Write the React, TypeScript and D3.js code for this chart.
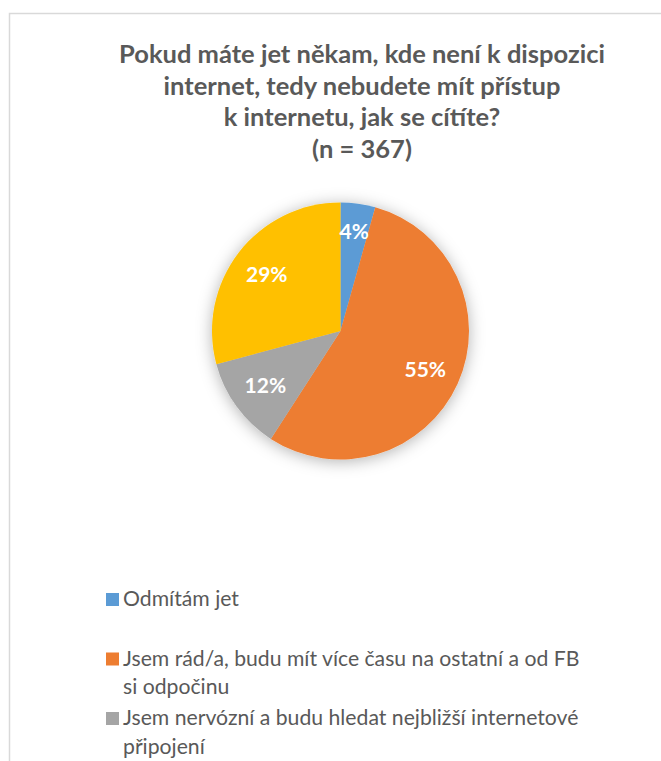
import React from "react";
import * as d3 from "d3";

const titleLines = [
  "Pokud máte jet někam, kde není k dispozici",
  "internet, tedy nebudete mít přístup",
  "k internetu, jak se cítíte?",
  "(n = 367)",
];

const categories = [
  "Odmítám jet",
  "Jsem rád/a, budu mít více času na ostatní a od FB si odpočinu",
  "Jsem nervózní a budu hledat nejbližší internetové připojení",
  "Je mi to jedno",
];

const legendLines = [
  ["Odmítám jet"],
  ["Jsem rád/a, budu mít více času na ostatní a od FB", "si odpočinu"],
  ["Jsem nervózní a budu hledat nejbližší internetové", "připojení"],
  ["Je mi to jedno"],
];

const counts = [16, 201, 43, 107];
const colors = ["#5B9BD5", "#ED7D31", "#A5A5A5", "#FFC000"];

const W = 661;
const H = 761;

export default function App() {
  const cx = 340.5;
  const cy = 331;
  const R = 128.5;
  const total = d3.sum(counts);
  const pie = d3.pie<number>().sort(null).value((d) => d)(counts);
  const arc = d3.arc<d3.PieArcDatum<number>>().innerRadius(0).outerRadius(R);
  const font = "Lato, 'Open Sans', sans-serif";
  const titleX = 362;
  const titleY0 = 63;
  const titleStep = 31.5;
  const legendX = 106;
  const legendY0 = 606;
  const legendStep = 59.5;
  const legendLH = 28.5;

  return (
    <svg
      width={W}
      height={H}
      style={{ position: "absolute", left: 0, top: 0, background: "#fff" }}
    >
      <defs>
        <filter id="shadow" x="-30%" y="-30%" width="160%" height="160%">
          <feDropShadow dx="0" dy="2" stdDeviation="8" floodColor="#000" floodOpacity="0.3" />
        </filter>
      </defs>
      <rect x={9.5} y={13.5} width={W + 20} height={H + 20} fill="#fff" stroke="#d9d9d9" strokeWidth={1.5} />
      <g fontFamily={font} fontWeight="bold" fill="#595959" fontSize={25.5} textAnchor="middle">
        {titleLines.map((t, i) => (
          <text key={i} x={titleX} y={titleY0 + i * titleStep}>
            {t}
          </text>
        ))}
      </g>
      <g transform={`translate(${cx},${cy})`}>
        <g filter="url(#shadow)">
          {pie.map((p, i) => (
            <path key={i} d={arc(p) || ""} fill={colors[i]} />
          ))}
        </g>
        {pie.map((p, i) => {
          const share = p.value / total;
          const lr = share < 0.08 ? 101 : 93;
          const a = (p.startAngle + p.endAngle) / 2;
          const x = lr * Math.sin(a);
          const y = -lr * Math.cos(a);
          return (
            <text
              key={i}
              x={x}
              y={y}
              dy="0.36em"
              textAnchor="middle"
              fontFamily={font}
              fontWeight="bold"
              fontSize={21}
              fill="#fff"
            >
              {`${Math.round(share * 100)}%`}
            </text>
          );
        })}
      </g>
      <g fontFamily={font} fontSize={21.2} fill="#595959">
        {categories.map((c, i) => {
          const by = legendY0 + i * legendStep;
          return (
            <g key={c}>
              <rect x={legendX} y={by - 13} width={13} height={13} fill={colors[i]} />
              {legendLines[i].map((l, j) => (
                <text key={j} x={legendX + 17} y={by + j * legendLH}>
                  {l}
                </text>
              ))}
            </g>
          );
        })}
      </g>
    </svg>
  );
}
